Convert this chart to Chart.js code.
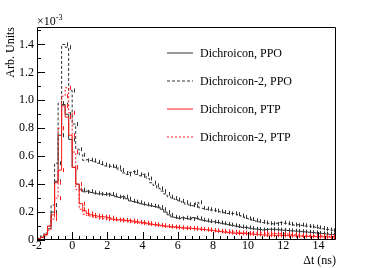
<!DOCTYPE html>
<html>
<head>
<meta charset="utf-8">
<script src="https://cdn.jsdelivr.net/npm/chart.js@4.4.0/dist/chart.umd.min.js"></script>
<style>
  html, body { margin: 0; padding: 0; background: #fff; }
  #wrap { width: 374px; height: 268px; }
</style>
</head>
<body>
<div id="wrap"><canvas id="chart" width="374" height="268"></canvas></div>
<script>
// histogram binning (ns)
const binStart = -2;
const binWidth = 0.2;
const xMin = -2, xMax = 15;
const yMax = 1.525; // units of 1e-3

const xTicks = [-2, 0, 2, 4, 6, 8, 10, 12, 14];
const yTicks = [0, 0.2, 0.4, 0.6, 0.8, 1, 1.2, 1.4];

const labels = ['Dichroicon, PPO', 'Dichroicon-2, PPO', 'Dichroicon, PTP', 'Dichroicon-2, PTP'];

// bin contents, x1e-3
const dichroiconPPO = [
  0.005, 0.01, 0.02, 0.04, 0.08,
  0.2, 0.42, 0.75, 0.97, 0.90, 0.72, 0.52, 0.40, 0.36, 0.345,
  0.35, 0.34, 0.335, 0.33, 0.33,
  0.325, 0.33, 0.32, 0.31, 0.305,
  0.31, 0.295, 0.28, 0.275, 0.27,
  0.26, 0.255, 0.25, 0.245, 0.24,
  0.235, 0.22, 0.2, 0.18, 0.165,
  0.16, 0.155, 0.16, 0.155, 0.15,
  0.16, 0.155, 0.145, 0.14, 0.135,
  0.13, 0.13, 0.125, 0.12, 0.115,
  0.11, 0.105, 0.1, 0.095, 0.09,
  0.09, 0.085, 0.08, 0.078, 0.075,
  0.072, 0.075, 0.078, 0.076, 0.074,
  0.072, 0.07, 0.068, 0.066, 0.064,
  0.063, 0.06, 0.058, 0.056, 0.054,
  0.05, 0.048, 0.046, 0.043, 0.04
];
const dichroicon2PPO = [
  0.005, 0.015, 0.03, 0.05, 0.1,
  0.25, 0.55, 0.98, 1.40, 1.38, 1.07, 0.83, 0.65, 0.61, 0.57,
  0.575, 0.57, 0.56, 0.55, 0.54,
  0.53, 0.53, 0.525, 0.52, 0.5,
  0.48, 0.47, 0.485, 0.49, 0.47,
  0.46, 0.47, 0.44, 0.41, 0.39,
  0.37, 0.35, 0.33, 0.31, 0.30,
  0.29, 0.28, 0.27, 0.255, 0.25,
  0.245, 0.27, 0.23, 0.225, 0.22,
  0.215, 0.21, 0.205, 0.2, 0.195,
  0.19, 0.19, 0.185, 0.175, 0.165,
  0.155, 0.15, 0.14, 0.135, 0.13,
  0.125, 0.12, 0.118, 0.115, 0.12,
  0.125, 0.12, 0.115, 0.11, 0.105,
  0.11, 0.105, 0.1, 0.098, 0.095,
  0.09, 0.085, 0.08, 0.075, 0.07
];
const dichroiconPTP = [
  0.004, 0.01, 0.02, 0.04, 0.1,
  0.18, 0.41, 0.50, 0.96, 0.88, 0.75, 0.52, 0.40, 0.26, 0.21,
  0.19, 0.18, 0.175, 0.17, 0.168,
  0.165, 0.16, 0.15, 0.145, 0.145,
  0.145, 0.14, 0.14, 0.135, 0.13,
  0.128, 0.125, 0.12, 0.115, 0.11,
  0.108, 0.105, 0.1, 0.098, 0.095,
  0.095, 0.09, 0.088, 0.085, 0.085,
  0.083, 0.08, 0.078, 0.075, 0.072,
  0.07, 0.066, 0.062, 0.06, 0.056,
  0.053, 0.05, 0.048, 0.047, 0.046,
  0.045, 0.043, 0.042, 0.04, 0.038,
  0.036, 0.035, 0.034, 0.034, 0.033,
  0.033, 0.032, 0.031, 0.03, 0.029,
  0.028, 0.027, 0.026, 0.026, 0.025,
  0.024, 0.024, 0.023, 0.022, 0.021
];
const dichroicon2PTP = [
  0.003, 0.008, 0.015, 0.03, 0.07,
  0.15, 0.30, 0.80, 1.03, 1.09, 0.91, 0.63, 0.36, 0.22, 0.185,
  0.175, 0.17, 0.16, 0.16, 0.155,
  0.15, 0.15, 0.148, 0.145, 0.14,
  0.14, 0.135, 0.13, 0.13, 0.125,
  0.12, 0.118, 0.115, 0.11, 0.11,
  0.105, 0.1, 0.1, 0.095, 0.092,
  0.09, 0.088, 0.085, 0.085, 0.083,
  0.082, 0.08, 0.078, 0.076, 0.075,
  0.07, 0.068, 0.066, 0.064, 0.062,
  0.06, 0.058, 0.056, 0.054, 0.052,
  0.05, 0.05, 0.05, 0.05, 0.05,
  0.05, 0.048, 0.048, 0.046, 0.046,
  0.045, 0.044, 0.042, 0.04, 0.038,
  0.036, 0.034, 0.033, 0.032, 0.03,
  0.03, 0.029, 0.028, 0.027, 0.026
];

// turn bin contents into step points (left edges + closing edge)
function toSteps(vals) {
  const pts = vals.map((v, i) => ({ x: binStart + i * binWidth, y: v }));
  pts.push({ x: binStart + vals.length * binWidth, y: vals[vals.length - 1] });
  return pts;
}

function histSet(label, vals, color, dash, order) {
  return {
    label: label,
    data: toSteps(vals),
    borderColor: color,
    borderWidth: 1,
    borderDash: dash,
    stepped: 'after',
    pointRadius: 0,
    fill: false,
    order: order  // later series drawn on top, like ROOT
  };
}

const serif = '"Liberation Serif", "Times New Roman", serif';
const black = '#333';
const red = '#ff1a1a';

// ROOT style frame with inner ticks, error marks, legend and titles
const rootStyle = {
  id: 'rootStyle',
  afterDatasetsDraw(chart) {
    const { ctx, chartArea: a, scales: { x, y } } = chart;
    ctx.save();

    // error crosses at bin centres
    chart.data.datasets.forEach(ds => {
      ctx.strokeStyle = ds.borderColor;
      ctx.lineWidth = 1;
      ctx.setLineDash([]);
      ctx.beginPath();
      for (let i = 5; i < ds.data.length - 1; i++) {
        const px = Math.round(x.getPixelForValue(ds.data[i].x + binWidth / 2)) + 0.5;
        const py = y.getPixelForValue(ds.data[i].y);
        ctx.moveTo(px, py - 2);
        ctx.lineTo(px, py + 2);
      }
      ctx.stroke();
    });

    ctx.strokeStyle = '#000';
    ctx.lineWidth = 1;
    ctx.beginPath();
    ctx.rect(a.left + 0.5, a.top + 0.5, a.right - a.left - 1, a.bottom - a.top - 1);
    for (let k = 0; k <= 42; k++) {
      const v = xMin + k * 0.4;
      if (v > xMax) break;
      const px = Math.round(x.getPixelForValue(v)) + 0.5;
      const len = k % 5 === 0 ? 8 : 4;
      ctx.moveTo(px, a.bottom);
      ctx.lineTo(px, a.bottom - len);
    }
    for (let k = 0; k * 0.1 <= yMax; k++) {
      const py = Math.round(y.getPixelForValue(k * 0.1)) + 0.5;
      const len = k % 2 === 0 ? 8 : 4;
      ctx.moveTo(a.left, py);
      ctx.lineTo(a.left + len, py);
    }
    ctx.stroke();
    ctx.restore();
  },
  afterDraw(chart) {
    const { ctx, chartArea: a } = chart;
    ctx.save();
    ctx.fillStyle = '#000';
    ctx.font = '12px ' + serif;

    // legend (dataset index order)
    const sets = chart.data.datasets;
    for (let i = 0; i < sets.length; i++) {
      const ds = sets[i];
      const ly = 53 + i * 28;
      ctx.strokeStyle = ds.borderColor;
      ctx.lineWidth = 1;
      ctx.setLineDash(ds.borderDash.length ? ds.borderDash : []);
      ctx.beginPath();
      ctx.moveTo(167, ly);
      ctx.lineTo(193, ly);
      ctx.stroke();
      ctx.setLineDash([]);
      ctx.fillStyle = '#000';
      ctx.textAlign = 'left';
      ctx.textBaseline = 'middle';
      ctx.fillText(ds.label, 200, ly + 0.5);
    }

    // axis titles
    ctx.textBaseline = 'alphabetic';
    ctx.textAlign = 'right';
    ctx.fillText('\u0394t (ns)', a.right, 264);

    ctx.textAlign = 'left';
    ctx.fillText('\u00d710', a.left, 25);
    const w = ctx.measureText('\u00d710').width;
    ctx.font = '8px ' + serif;
    ctx.fillText('-3', a.left + w, 20);

    ctx.font = '12px ' + serif;
    ctx.translate(14, a.top);
    ctx.rotate(-Math.PI / 2);
    ctx.textAlign = 'right';
    ctx.fillText('Arb. Units', 0, 0);
    ctx.restore();
  }
};

new Chart(document.getElementById('chart'), {
  type: 'line',
  data: {
    datasets: [
      histSet(labels[0], dichroiconPPO, black, [], 4),
      histSet(labels[1], dichroicon2PPO, black, [3, 2], 3),
      histSet(labels[2], dichroiconPTP, red, [], 2),
      histSet(labels[3], dichroicon2PTP, red, [2, 2], 1)
    ]
  },
  options: {
    responsive: false,
    animation: false,
    devicePixelRatio: 1,
    layout: { padding: { left: 0, right: 38, top: 27, bottom: 0 } },
    plugins: { legend: { display: false }, tooltip: { enabled: false } },
    scales: {
      x: {
        type: 'linear',
        min: xMin,
        max: xMax,
        afterBuildTicks(scale) { scale.ticks = xTicks.map(v => ({ value: v })); },
        afterFit(scale) { scale.height = 28; },
        grid: { display: false, drawTicks: false },
        border: { display: false },
        ticks: { color: '#000', font: { family: serif, size: 12 }, padding: -1, maxRotation: 0 }
      },
      y: {
        type: 'linear',
        min: 0,
        max: yMax,
        afterBuildTicks(scale) { scale.ticks = yTicks.map(v => ({ value: v })); },
        afterFit(scale) { scale.width = 37; },
        grid: { display: false, drawTicks: false },
        border: { display: false },
        ticks: { color: '#000', font: { family: serif, size: 12 }, padding: 3 }
      }
    }
  },
  plugins: [rootStyle]
});
</script>
</body>
</html>
